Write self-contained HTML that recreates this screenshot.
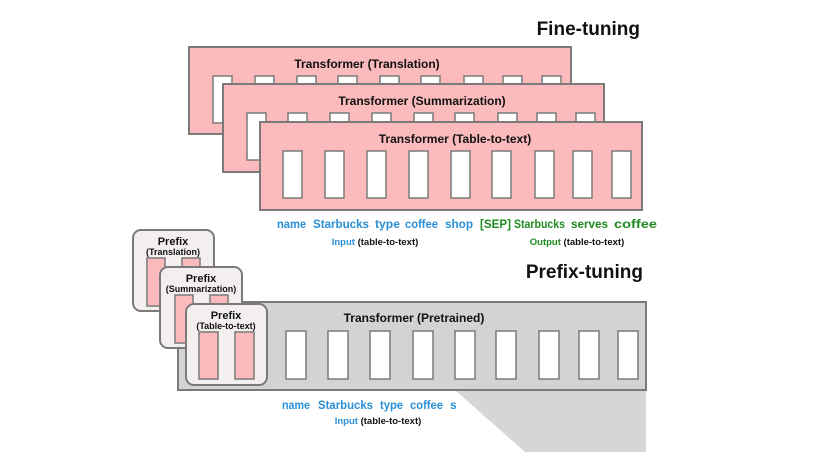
<!DOCTYPE html>
<html><head><style>html,body{margin:0;padding:0;background:#fff}svg{display:block}</style></head>
<body>
<svg width="828" height="452" viewBox="0 0 828 452" xmlns="http://www.w3.org/2000/svg" font-family="Liberation Sans, sans-serif" font-weight="bold">
<rect width="828" height="452" fill="#fff"/>
<text x="640" y="35" font-size="19" text-anchor="end" fill="#111">Fine-tuning</text>
<g stroke="#7a7a7a" stroke-width="2">
<rect x="189" y="47" width="382" height="87" fill="#fbbabc"/>
<g fill="#fff" stroke-width="1.5">
<rect x="213" y="76" width="19" height="47"/><rect x="255" y="76" width="19" height="47"/><rect x="297" y="76" width="19" height="47"/><rect x="338" y="76" width="19" height="47"/><rect x="380" y="76" width="19" height="47"/><rect x="421" y="76" width="19" height="47"/><rect x="464" y="76" width="19" height="47"/><rect x="503" y="76" width="19" height="47"/><rect x="542" y="76" width="19" height="47"/>
</g>
<rect x="223" y="84" width="381" height="88" fill="#fbbabc"/>
<g fill="#fff" stroke-width="1.5">
<rect x="247" y="113" width="19" height="47"/><rect x="288" y="113" width="19" height="47"/><rect x="330" y="113" width="19" height="47"/><rect x="372" y="113" width="19" height="47"/><rect x="414" y="113" width="19" height="47"/><rect x="455" y="113" width="19" height="47"/><rect x="498" y="113" width="19" height="47"/><rect x="537" y="113" width="19" height="47"/><rect x="576" y="113" width="19" height="47"/>
</g>
<rect x="260" y="122" width="382" height="88" fill="#fbbabc"/>
<g fill="#fff" stroke-width="1.5">
<rect x="283" y="151" width="19" height="47"/><rect x="325" y="151" width="19" height="47"/><rect x="367" y="151" width="19" height="47"/><rect x="409" y="151" width="19" height="47"/><rect x="451" y="151" width="19" height="47"/><rect x="492" y="151" width="19" height="47"/><rect x="535" y="151" width="19" height="47"/><rect x="573" y="151" width="19" height="47"/><rect x="612" y="151" width="19" height="47"/>
</g>
</g>
<g font-size="12" text-anchor="middle" fill="#111">
<text x="367" y="68">Transformer (Translation)</text>
<text x="422" y="105">Transformer (Summarization)</text>
<text x="455" y="143">Transformer (Table-to-text)</text>
</g>
<g font-size="12" fill="#2a8fd6">
<text x="277" y="228" textLength="29" lengthAdjust="spacingAndGlyphs">name</text><text x="313" y="228" textLength="56" lengthAdjust="spacingAndGlyphs">Starbucks</text><text x="375" y="228" textLength="25" lengthAdjust="spacingAndGlyphs">type</text><text x="405" y="228" textLength="33" lengthAdjust="spacingAndGlyphs">coffee</text><text x="445" y="228" textLength="28" lengthAdjust="spacingAndGlyphs">shop</text>
</g>
<g font-size="12" fill="#1f8a1f">
<text x="480" y="228" textLength="31" lengthAdjust="spacingAndGlyphs">[SEP]</text><text x="514" y="228" textLength="51" lengthAdjust="spacingAndGlyphs">Starbucks</text><text x="571" y="228" textLength="37" lengthAdjust="spacingAndGlyphs">serves</text><text x="614" y="228" textLength="43" lengthAdjust="spacingAndGlyphs">coffee</text>
</g>
<text x="375" y="245" font-size="9.5" text-anchor="middle" fill="#111"><tspan fill="#2a8fd6">Input</tspan> (table-to-text)</text>
<text x="577" y="245" font-size="9.5" text-anchor="middle" fill="#111"><tspan fill="#1f8a1f">Output</tspan> (table-to-text)</text>

<text x="643" y="278" font-size="19" text-anchor="end" fill="#111">Prefix-tuning</text>
<polygon points="455,390 646,390 646,452 525,452" fill="#d6d6d6"/>
<rect x="178" y="302" width="468" height="88" fill="#d3d3d3" stroke="#7a7a7a" stroke-width="2"/>
<g fill="#fff" stroke="#7a7a7a" stroke-width="1.5">
<rect x="286" y="331" width="20" height="48"/><rect x="328" y="331" width="20" height="48"/><rect x="370" y="331" width="20" height="48"/><rect x="413" y="331" width="20" height="48"/><rect x="455" y="331" width="20" height="48"/><rect x="496" y="331" width="20" height="48"/><rect x="539" y="331" width="20" height="48"/><rect x="579" y="331" width="20" height="48"/><rect x="618" y="331" width="20" height="48"/>
</g>
<text x="414" y="322" font-size="12" text-anchor="middle" fill="#111">Transformer  (Pretrained)</text>
<g stroke="#7a7a7a" stroke-width="2">
<rect x="133" y="230" width="81" height="81" rx="8" fill="#f4efef"/>
<rect x="147" y="258" width="18" height="48" fill="#fbbabc" stroke-width="1.5"/><rect x="182" y="258" width="18" height="48" fill="#fbbabc" stroke-width="1.5"/>
<rect x="160" y="267" width="82" height="81" rx="8" fill="#f4efef"/>
<rect x="175" y="295" width="18" height="48" fill="#fbbabc" stroke-width="1.5"/><rect x="210" y="295" width="18" height="48" fill="#fbbabc" stroke-width="1.5"/>
<rect x="186" y="304" width="81" height="81" rx="8" fill="#f4efef"/>
<rect x="199" y="332" width="19" height="47" fill="#fbbabc" stroke-width="1.5"/><rect x="235" y="332" width="19" height="47" fill="#fbbabc" stroke-width="1.5"/>
</g>
<g text-anchor="middle" fill="#111">
<text x="173" y="245" font-size="11">Prefix</text><text x="173" y="255" font-size="9">(Translation)</text>
<text x="201" y="282" font-size="11">Prefix</text><text x="201" y="292" font-size="9">(Summarization)</text>
<text x="226" y="319" font-size="11">Prefix</text><text x="226" y="329" font-size="9">(Table-to-text)</text>
</g>
<g font-size="12" fill="#2a8fd6">
<text x="282" y="409" textLength="28" lengthAdjust="spacingAndGlyphs">name</text><text x="318" y="409" textLength="55" lengthAdjust="spacingAndGlyphs">Starbucks</text><text x="380" y="409" textLength="23" lengthAdjust="spacingAndGlyphs">type</text><text x="410" y="409" textLength="33" lengthAdjust="spacingAndGlyphs">coffee</text><text x="450" y="409">s</text>
</g>
<text x="378" y="424" font-size="9.5" text-anchor="middle" fill="#111"><tspan fill="#2a8fd6">Input</tspan> (table-to-text)</text>
</svg>
</body></html>
